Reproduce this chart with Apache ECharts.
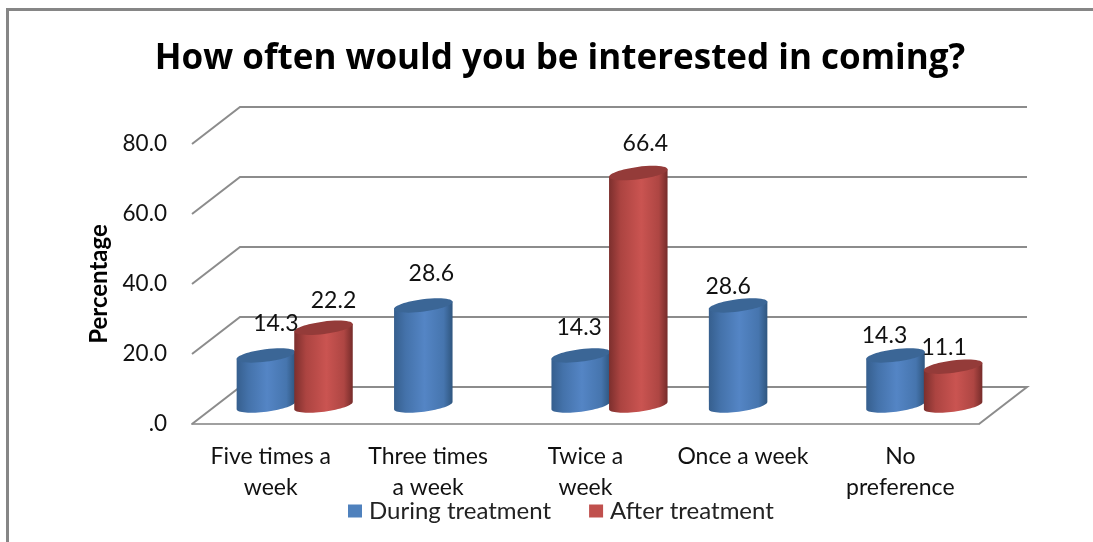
<!DOCTYPE html>
<html>
<head>
<meta charset="utf-8">
<style>html,body{margin:0;padding:0;background:#fff}#chart{width:1093px;height:542px}</style>
<script src="https://cdn.jsdelivr.net/npm/echarts@6/dist/echarts.min.js"></script>
</head>
<body>
<div id="chart"></div>
<script>
// Survey results
const categories = ["Five times a\nweek", "Three times\na week", "Twice a\nweek", "Once a week", "No\npreference"];
const duringTreatment = [14.3, 28.6, 14.3, 28.6, 14.3];
const afterTreatment = [22.2, null, 66.4, null, 11.1];
const valueTicks = [0, 20, 40, 60, 80];

// Oblique depth of the floor and the cylinder proportions, in pixels
const DEPTH_X = 48, DEPTH_Y = -37;
const CYL_RX = 29.5, CYL_RY = 6.2, CYL_TILT = 0.13, CYL_OFFSET = 28.8;
const FONT = 'Lato, "Open Sans", sans-serif';
// Label nudges relative to the top of each cylinder
const duringLabelShift = [[10, -32], [8, -32], [-1.5, -28], [-10, -19], [-11, -20]];
const afterLabelShift = [[10, -27], null, [7, -30], null, [-9, -19]];

function ellipsePoint(cx, cy, angle) {
  const ex = CYL_RX * Math.cos(angle), ey = CYL_RY * Math.sin(angle);
  return [cx + ex * Math.cos(CYL_TILT) + ey * Math.sin(CYL_TILT),
          cy - ex * Math.sin(CYL_TILT) + ey * Math.cos(CYL_TILT)];
}

function shade(stops) {
  return new echarts.graphic.LinearGradient(0, 0, 1, 0, stops);
}

function cylinderSeries(name, values, side, swatch, body, lid) {
  return {
    type: 'custom',
    name,
    z: side < 0 ? 3 : 4,
    itemStyle: { color: swatch },
    encode: { x: 0, y: 1 },
    data: values.map((v, i) => [i, v]),
    renderItem(params, api) {
      const v = api.value(1);
      if (v == null || isNaN(v)) return null;
      const cat = api.value(0);
      const foot = api.coord([cat, 0]);
      const head = api.coord([cat, v]);
      const cx = foot[0] + DEPTH_X / 2 + side * CYL_OFFSET;
      const yBase = foot[1] + DEPTH_Y / 2;
      const yTop = head[1] + DEPTH_Y / 2;
      const outline = [ellipsePoint(cx, yTop, Math.PI)];
      for (let k = 0; k <= 32; k++) {
        outline.push(ellipsePoint(cx, yBase, Math.PI - Math.PI * k / 32));
      }
      outline.push(ellipsePoint(cx, yTop, 0));
      return {
        type: 'group',
        children: [
          { type: 'polygon', shape: { points: outline }, style: { fill: shade(body) } },
          { type: 'ellipse', shape: { cx: 0, cy: 0, rx: CYL_RX, ry: CYL_RY },
            x: cx, y: yTop, rotation: CYL_TILT, style: { fill: lid } }
        ]
      };
    }
  };
}

function labelSeries(values, side, shifts) {
  return {
    type: 'custom',
    z: 10,
    silent: true,
    encode: { x: 0, y: 1 },
    data: values.map((v, i) => [i, v]),
    renderItem(params, api) {
      const v = api.value(1);
      if (v == null || isNaN(v)) return null;
      const cat = api.value(0);
      const head = api.coord([cat, v]);
      const shift = shifts[cat];
      return {
        type: 'text',
        style: {
          text: v.toFixed(1),
          x: head[0] + DEPTH_X / 2 + side * CYL_OFFSET + shift[0],
          y: head[1] + DEPTH_Y / 2 + shift[1],
          align: 'center', verticalAlign: 'middle',
          fill: '#111', font: '23px ' + FONT
        }
      };
    }
  };
}

const blueBody = [
  { offset: 0, color: '#365f8e' }, { offset: 0.2, color: '#4472aa' },
  { offset: 0.52, color: '#5485c5' }, { offset: 0.85, color: '#4675ae' }, { offset: 1, color: '#2f567f' }
];
const redBody = [
  { offset: 0, color: '#7c2f2d' }, { offset: 0.2, color: '#ac4441' },
  { offset: 0.55, color: '#ca5451' }, { offset: 0.85, color: '#ae4643' }, { offset: 1, color: '#762c2a' }
];

const chart = echarts.init(document.getElementById('chart'));
chart.setOption({
  animation: false,
  backgroundColor: '#fff',
  title: {
    text: 'How often would you be interested in coming?',
    left: 555, top: 37, textAlign: 'center',
    textStyle: { fontFamily: '"Open Sans", Lato, sans-serif', fontWeight: 'bold', fontSize: 35, color: '#000' }
  },
  graphic: [{
    type: 'rect', z: 0, silent: true,
    shape: { x: 7.5, y: 9.5, width: 1200, height: 700 },
    style: { fill: 'none', stroke: '#868686', lineWidth: 3 }
  }],
  legend: {
    data: ['During treatment', 'After treatment'],
    left: 343, top: 494, itemWidth: 14, itemHeight: 13, itemGap: 38,
    icon: 'rect',
    textStyle: { fontFamily: FONT, fontSize: 24, color: '#222', padding: [0, 0, 0, 2] }
  },
  grid: { left: 192, right: 114, top: 144, bottom: 118 },
  xAxis: {
    type: 'category',
    data: categories,
    axisTick: { show: false },
    axisLine: { lineStyle: { color: '#a0a0a0', width: 2 } },
    axisLabel: { interval: 0, margin: 17, lineHeight: 31, color: '#111', fontFamily: FONT, fontSize: 23 }
  },
  yAxis: {
    type: 'value',
    min: 0, max: 80, interval: 20,
    name: 'Percentage',
    nameLocation: 'middle',
    nameGap: 79,
    nameTextStyle: { fontFamily: FONT, fontWeight: 'bold', fontSize: 24, color: '#000' },
    axisLine: { show: false },
    axisTick: { show: false },
    splitLine: { show: false },
    axisLabel: {
      margin: 25, color: '#111', fontFamily: FONT, fontSize: 22.5,
      formatter: v => v === 0 ? '.0' : v.toFixed(1)
    }
  },
  series: [
    {
      // Back wall lines with their oblique returns, and the floor's far edges
      type: 'custom',
      z: 1,
      silent: true,
      encode: { y: 0 },
      data: valueTicks.map(v => [v]),
      renderItem(params, api) {
        const y = api.coord([0, api.value(0)])[1];
        const g = params.coordSys;
        const left = g.x, right = g.x + g.width;
        const line = { stroke: '#8c8c8c', lineWidth: 2, fill: 'none' };
        const points = [[left, y], [left + DEPTH_X, y + DEPTH_Y], [right + DEPTH_X, y + DEPTH_Y]];
        if (api.value(0) === 0) points.push([right, y]);
        return { type: 'polyline', shape: { points }, style: line };
      }
    },
    cylinderSeries('During treatment', duringTreatment, -1, '#4f81bd', blueBody, '#3b6696'),
    cylinderSeries('After treatment', afterTreatment, 1, '#c0504d', redBody, '#943b39'),
    labelSeries(duringTreatment, -1, duringLabelShift),
    labelSeries(afterTreatment, 1, afterLabelShift)
  ]
});
</script>
</body>
</html>
